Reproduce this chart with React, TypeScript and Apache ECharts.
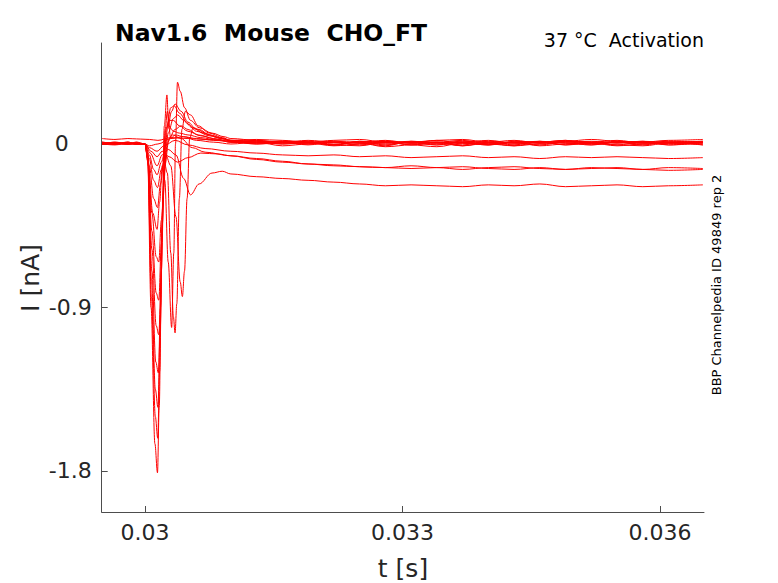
import React, { useEffect, useRef } from "react";
import * as echarts from "echarts";

// Axis ticks
const X_TICKS = [0.03, 0.033, 0.036];
const Y_TICKS = [-1.8, -0.9, 0];

// Shared time points (ms) for the pre-pulse baseline and the late tail
const PRE_T = [29.5, 29.65, 29.8, 29.9, 30.0];
const TAIL_T = [31.0, 31.3, 31.6, 31.9, 32.2, 32.5, 32.8, 33.1, 33.4, 33.7, 34.0, 34.3, 34.6, 34.9, 35.2, 35.5, 35.8, 36.1, 36.5];

// Traces: current in nA, times in ms
const F1 = {
  pre: [0.03, 0.025, 0.03, 0.028, 0.026],
  mid: [[30.05, 0.025], [30.15, 0.02], [30.3, 0.035], [30.5, 0.03], [30.7, 0.025]],
  tail: [0.02, 0.025, 0.02, 0.01, 0.02, 0.025, 0.01, 0.005, 0.02, 0.025, 0.01, 0.02, 0.005, 0.015, 0.025, 0.015, 0.01, 0.02, 0.025],
};
const F2 = {
  pre: [0.005, 0.0, 0.01, 0.0, 0.0],
  mid: [[30.05, -0.01], [30.15, 0.0], [30.3, 0.03], [30.45, 0.04], [30.6, 0.02], [30.8, 0.01]],
  tail: [0.0, 0.01, -0.01, 0.0, 0.01, 0.005, -0.015, -0.005, 0.01, 0.02, 0.0, -0.01, 0.01, 0.005, -0.005, 0.01, 0.015, -0.005, 0.005],
};
const S1 = {
  pre: [0.01, 0.005, 0.0, 0.005, 0.0],
  mid: [[30.05, -0.02], [30.14, -0.04], [30.22, -0.01], [30.35, 0.02], [30.5, -0.005], [30.7, -0.025]],
  tail: [-0.04, -0.05, -0.06, -0.065, -0.06, -0.07, -0.065, -0.075, -0.07, -0.065, -0.075, -0.07, -0.08, -0.07, -0.075, -0.07, -0.075, -0.08, -0.075],
};
const S2 = {
  pre: [0.0, 0.01, 0.0, 0.005, 0.0],
  mid: [[30.05, -0.06], [30.1, -0.14], [30.14, -0.17], [30.19, -0.1], [30.25, 0.0], [30.32, 0.05], [30.42, 0.03], [30.55, -0.02], [30.7, -0.045]],
  tail: [-0.065, -0.08, -0.095, -0.11, -0.12, -0.125, -0.13, -0.12, -0.13, -0.14, -0.13, -0.125, -0.135, -0.14, -0.13, -0.135, -0.14, -0.13, -0.135],
};
const D5 = {
  pre: [0.0, -0.005, 0.005, 0.0, 0.0],
  mid: [[30.07, -0.04], [30.14, -0.07], [30.2, -0.04], [30.28, -0.07], [30.38, -0.1], [30.5, -0.075], [30.65, -0.05], [30.85, -0.055]],
  tail: [-0.065, -0.085, -0.1, -0.11, -0.115, -0.125, -0.13, -0.135, -0.13, -0.125, -0.135, -0.14, -0.13, -0.14, -0.135, -0.13, -0.14, -0.145, -0.14],
};
const D4 = {
  pre: [0.0, 0.005, 0.0, 0.0, 0.0],
  mid: [[30.06, -0.05], [30.14, -0.12], [30.2, -0.06], [30.27, -0.03], [30.36, -0.06], [30.45, -0.19], [30.53, -0.28], [30.63, -0.22], [30.78, -0.16], [30.9, -0.15]],
  tail: [-0.165, -0.18, -0.19, -0.2, -0.21, -0.22, -0.23, -0.225, -0.23, -0.235, -0.225, -0.23, -0.22, -0.235, -0.23, -0.225, -0.235, -0.23, -0.225],
};
const D3 = {
  pre: [0.0, 0.0, 0.01, 0.0, 0.0],
  mid: [[30.05, -0.08], [30.1, -0.2], [30.145, -0.24], [30.19, -0.14], [30.24, -0.06], [30.3, -0.12], [30.36, -0.4], [30.41, -0.76], [30.435, -0.84], [30.46, -0.7], [30.49, -0.3], [30.52, 0.03], [30.56, 0.09], [30.63, 0.08], [30.75, 0.05], [30.9, 0.03]],
  tail: [0.015, 0.0, 0.01, 0.005, -0.01, 0.0, 0.01, -0.005, -0.015, 0.005, 0.0, 0.01, -0.01, 0.0, 0.005, -0.01, 0.0, 0.01, -0.005],
};
const D2 = {
  pre: [0.01, 0.0, 0.0, 0.005, 0.0],
  mid: [[30.05, -0.12], [30.1, -0.3], [30.145, -0.35], [30.18, -0.22], [30.22, -0.09], [30.26, -0.16], [30.3, -0.6], [30.33, -0.95], [30.35, -1.04], [30.37, -0.88], [30.4, -0.3], [30.43, 0.08], [30.47, 0.18], [30.53, 0.16], [30.62, 0.1], [30.75, 0.06], [30.9, 0.035]],
  tail: [0.02, 0.015, 0.0, 0.01, -0.005, 0.015, 0.0, 0.01, 0.005, -0.01, 0.01, -0.005, 0.015, 0.005, -0.005, 0.01, 0.0, 0.005, 0.01],
};
const D1 = {
  pre: [0.0, 0.01, 0.005, 0.0, 0.0],
  mid: [[30.04, -0.12], [30.09, -0.38], [30.14, -0.47], [30.17, -0.32], [30.2, -0.12], [30.23, -0.2], [30.27, -0.65], [30.31, -1.01], [30.335, -0.6], [30.355, 0.0], [30.378, 0.34], [30.41, 0.29], [30.46, 0.2], [30.53, 0.13], [30.63, 0.09], [30.78, 0.06], [30.92, 0.04]],
  tail: [0.03, 0.02, 0.01, 0.015, 0.0, 0.01, 0.02, 0.005, 0.01, -0.005, 0.015, 0.005, 0.01, 0.02, 0.0, 0.01, 0.005, 0.015, 0.01],
};
const E7 = {
  pre: [0.0, 0.005, 0.0, 0.01, 0.0],
  mid: [[30.03, -0.05], [30.08, -0.38], [30.13, -0.62], [30.16, -0.65], [30.19, -0.42], [30.23, -0.12], [30.28, 0.03], [30.35, 0.08], [30.42, 0.1], [30.5, 0.08], [30.62, 0.05], [30.8, 0.03]],
  tail: [0.01, 0.0, 0.005, 0.01, -0.005, -0.01, 0.01, 0.005, -0.005, 0.01, 0.005, -0.01, 0.0, 0.01, 0.005, -0.005, -0.01, 0.005, 0.0],
};
const E6 = {
  pre: [0.005, 0.0, 0.005, 0.0, 0.0],
  mid: [[30.03, -0.06], [30.08, -0.48], [30.13, -0.82], [30.16, -0.86], [30.19, -0.55], [30.23, -0.12], [30.27, 0.06], [30.33, 0.14], [30.38, 0.16], [30.45, 0.13], [30.55, 0.09], [30.68, 0.06], [30.85, 0.035]],
  tail: [0.02, 0.01, 0.0, 0.005, 0.015, 0.01, -0.005, 0.01, 0.02, 0.005, -0.005, 0.01, 0.005, 0.015, 0.01, -0.005, 0.01, 0.005, 0.01],
};
const E5 = {
  pre: [0.0, 0.0, 0.005, 0.005, 0.0],
  mid: [[30.03, -0.07], [30.08, -0.58], [30.13, -1.0], [30.16, -1.05], [30.19, -0.7], [30.22, -0.2], [30.26, 0.08], [30.31, 0.18], [30.35, 0.22], [30.42, 0.18], [30.5, 0.12], [30.6, 0.08], [30.75, 0.05], [30.9, 0.03]],
  tail: [0.02, 0.01, 0.015, 0.0, 0.01, 0.005, 0.015, -0.005, 0.005, 0.015, 0.01, 0.0, 0.01, 0.02, 0.005, 0.01, -0.005, 0.01, 0.015],
};
const E4 = {
  pre: [0.01, 0.005, 0.0, 0.0, 0.0],
  mid: [[30.03, -0.07], [30.08, -0.7], [30.125, -1.2], [30.155, -1.26], [30.18, -0.9], [30.21, -0.3], [30.25, 0.08], [30.3, 0.2], [30.34, 0.21], [30.4, 0.17], [30.5, 0.11], [30.6, 0.07], [30.75, 0.045], [30.9, 0.03]],
  tail: [0.015, 0.02, 0.005, 0.01, -0.005, 0.015, 0.005, 0.01, -0.005, 0.01, 0.02, 0.005, -0.005, 0.01, 0.015, 0.005, 0.01, -0.005, 0.01],
};
const E3 = {
  pre: [0.0, 0.005, 0.01, 0.0, 0.0],
  mid: [[30.03, -0.08], [30.075, -0.75], [30.12, -1.35], [30.15, -1.45], [30.175, -1.05], [30.205, -0.35], [30.24, 0.08], [30.28, 0.13], [30.33, 0.13], [30.4, 0.1], [30.5, 0.07], [30.65, 0.045], [30.85, 0.025]],
  tail: [0.01, 0.015, 0.01, -0.005, 0.01, 0.005, -0.01, 0.015, 0.01, 0.005, -0.005, 0.015, 0.01, -0.005, 0.005, 0.015, 0.01, 0.005, -0.005],
};
const E2 = {
  pre: [0.005, 0.0, 0.0, 0.01, 0.0],
  mid: [[30.03, -0.08], [30.075, -0.85], [30.12, -1.5], [30.148, -1.62], [30.17, -1.25], [30.2, -0.45], [30.235, 0.08], [30.26, 0.18], [30.29, 0.09], [30.33, 0.07], [30.4, 0.06], [30.5, 0.05], [30.65, 0.035], [30.85, 0.02]],
  tail: [0.01, 0.005, 0.015, 0.01, -0.005, 0.01, 0.015, 0.005, 0.01, -0.01, 0.005, 0.01, 0.015, -0.005, 0.01, 0.005, 0.015, 0.01, 0.005],
};
const E1 = {
  pre: [0.0, 0.005, 0.0, 0.0, 0.0],
  mid: [[30.03, -0.09], [30.07, -0.9], [30.115, -1.65], [30.145, -1.81], [30.165, -1.45], [30.195, -0.5], [30.225, 0.1], [30.255, 0.27], [30.275, 0.1], [30.3, 0.03], [30.35, 0.05], [30.45, 0.04], [30.6, 0.03], [30.8, 0.02]],
  tail: [0.015, 0.005, 0.01, 0.02, 0.01, -0.005, 0.01, 0.015, 0.005, 0.01, -0.005, 0.01, 0.005, 0.015, 0.01, 0.02, 0.005, 0.01, 0.015],
};

const TRACES = [F1, F2, S1, S2, D5, D4, D3, D2, D1, E7, E6, E5, E4, E3, E2, E1];

const FONT = '"DejaVu Sans", sans-serif';
const TEXT_COLOR = "#262626";
const AXIS_COLOR = "#4d4d4d";

function buildData(tr: { pre: number[]; mid: number[][]; tail: number[] }) {
  const pts: number[][] = [];
  PRE_T.forEach((t, i) => pts.push([t / 1000, tr.pre[i]]));
  tr.mid.forEach(([t, v]) => pts.push([t / 1000, v]));
  TAIL_T.forEach((t, i) => pts.push([t / 1000, tr.tail[i]]));
  return pts;
}

export default function App() {
  const ref = useRef<HTMLDivElement>(null);
  useEffect(() => {
    if (!ref.current) return;
    const chart = echarts.init(ref.current, null, { renderer: "svg" });
    const fmt = (v: number) => String(parseFloat(Number(v).toPrecision(6)));
    chart.setOption({
      animation: false,
      backgroundColor: "#ffffff",
      grid: { left: 101.7, top: 43, width: 602.3, height: 469, containLabel: false },
      xAxis: {
        type: "value",
        min: 0.029495,
        max: 0.036513,
        axisLine: { show: true, onZero: false, lineStyle: { color: AXIS_COLOR, width: 1 } },
        axisTick: { show: true, inside: true, length: 6, customValues: X_TICKS, lineStyle: { color: AXIS_COLOR } },
        axisLabel: {
          customValues: X_TICKS,
          formatter: fmt,
          fontSize: 22,
          fontFamily: FONT,
          color: TEXT_COLOR,
          margin: 9,
        },
        splitLine: { show: false },
      },
      yAxis: {
        type: "value",
        min: -2.026,
        max: 0.556,
        axisLine: { show: true, onZero: false, lineStyle: { color: AXIS_COLOR, width: 1 } },
        axisTick: { show: true, inside: true, length: 6, customValues: Y_TICKS, lineStyle: { color: AXIS_COLOR } },
        axisLabel: {
          customValues: Y_TICKS,
          formatter: (v: number) => (Math.abs(v) < 1e-9 ? "{z|0}" : fmt(v)),
          fontSize: 22,
          fontFamily: FONT,
          color: TEXT_COLOR,
          margin: 10,
          rich: {
            z: { fontSize: 22, fontFamily: FONT, color: TEXT_COLOR, padding: [0, 23, 0, 0] },
          },
        },
        splitLine: { show: false },
      },
      series: TRACES.map((tr) => ({
        type: "line",
        data: buildData(tr),
        showSymbol: false,
        symbol: "none",
        smooth: 0.35,
        smoothMonotone: "x",
        clip: true,
        lineStyle: { color: "#ff0000", width: 1 },
        emphasis: { disabled: true },
      })),
      graphic: [
        {
          type: "text",
          x: 115,
          y: 33,
          style: {
            text: "Nav1.6  Mouse  CHO_FT",
            fontSize: 23.5,
            fontWeight: "bold",
            fontFamily: FONT,
            fill: "#000000",
            align: "left",
            verticalAlign: "middle",
          },
        },
        {
          type: "text",
          x: 704,
          y: 40,
          style: {
            text: "37 °C  Activation",
            fontSize: 19,
            fontFamily: FONT,
            fill: "#000000",
            align: "right",
            verticalAlign: "middle",
          },
        },
        {
          type: "text",
          x: 716,
          y: 285,
          rotation: Math.PI / 2,
          style: {
            text: "BBP Channelpedia ID 49849 rep 2",
            fontSize: 13,
            fontFamily: FONT,
            fill: "#000000",
            align: "center",
            verticalAlign: "middle",
          },
        },
        {
          type: "text",
          x: 30,
          y: 278,
          rotation: Math.PI / 2,
          style: {
            text: "I [nA]",
            fontSize: 25,
            fontFamily: FONT,
            fill: TEXT_COLOR,
            align: "center",
            verticalAlign: "middle",
          },
        },
        {
          type: "text",
          x: 403,
          y: 568,
          style: {
            text: "t [s]",
            fontSize: 25,
            fontFamily: FONT,
            fill: TEXT_COLOR,
            align: "center",
            verticalAlign: "middle",
          },
        },
      ],
    });
    return () => chart.dispose();
  }, []);
  return (
    <div
      ref={ref}
      style={{ position: "absolute", left: 0, top: 0, width: 778, height: 583, background: "#ffffff" }}
    />
  );
}
